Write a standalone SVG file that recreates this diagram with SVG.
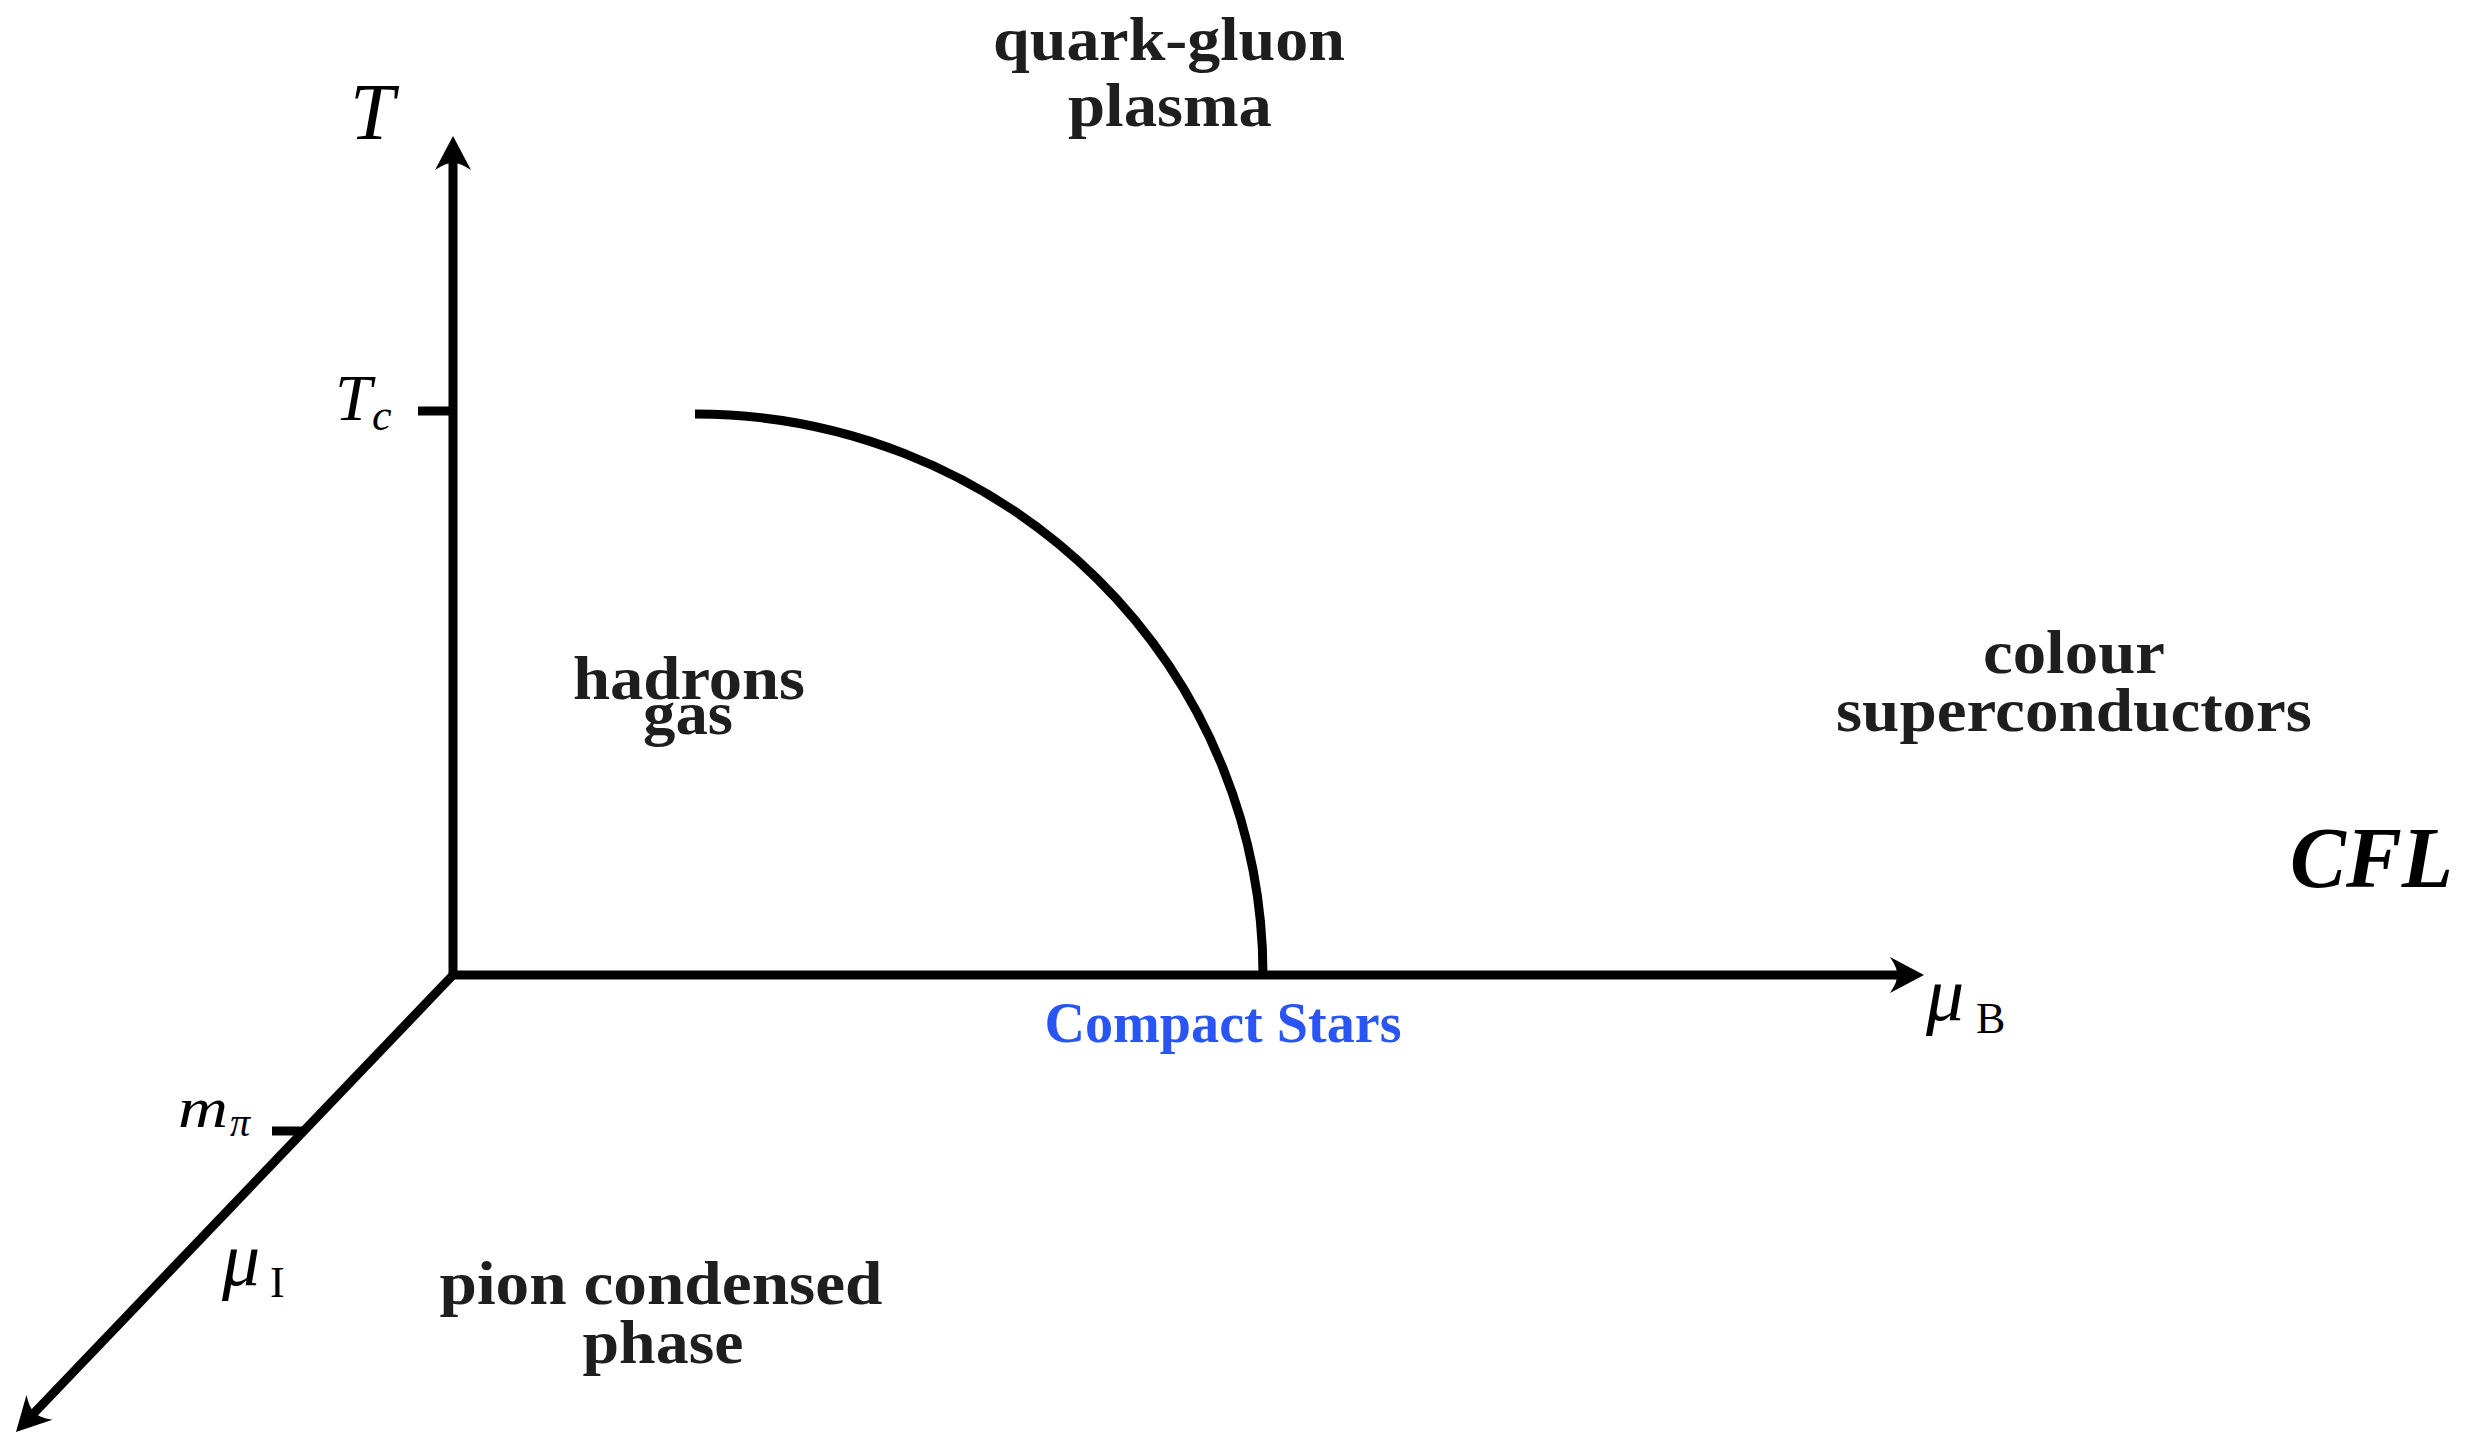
<svg xmlns="http://www.w3.org/2000/svg" width="2476" height="1435" viewBox="0 0 2476 1435">
<defs>
<style>
.lbl{font-family:"Liberation Serif","Times New Roman",serif;font-weight:bold;font-size:62px;fill:#1e1e1e;text-anchor:middle}
.math{font-family:"Liberation Serif","Times New Roman",serif;font-style:italic;fill:#000}
.up{font-family:"Liberation Serif","Times New Roman",serif;fill:#000}
.ax{stroke:#000;stroke-width:9;fill:none}
</style>
<marker id="arr" markerUnits="userSpaceOnUse" markerWidth="60" markerHeight="60" viewBox="-30 -30 60 60" refX="0" refY="0" orient="auto">
<path d="M20,0 L-14,-18 Q-6,-6 -7,0 Q-6,6 -14,18 Z" fill="#000"/>
</marker>
</defs>
<rect width="2476" height="1435" fill="#fff"/>
<g id="connectors">
<line class="ax" x1="453" y1="975" x2="453" y2="156" marker-end="url(#arr)"/>
<line class="ax" x1="453" y1="975" x2="1904" y2="975" marker-end="url(#arr)"/>
<line class="ax" x1="453" y1="975" x2="29.8" y2="1417.5" marker-end="url(#arr)"/>
<line class="ax" x1="418" y1="411" x2="453" y2="411"/>
<line class="ax" x1="272" y1="1131" x2="304" y2="1131"/>
<path class="ax" d="M695,414 A568,561 0 0 1 1263,975"/>
</g>
<g id="axis-labels">
<text class="math" x="350" y="139" font-size="80">T</text>
<text class="math" x="335" y="420" font-size="66">T</text>
<text class="math" x="372" y="430" font-size="44">c</text>
<text class="math" x="1926" y="1020" font-size="76">μ</text>
<text class="up" x="1976" y="1033" font-size="44">B</text>
<text class="math" x="222" y="1285" font-size="76">μ</text>
<text class="up" x="270" y="1297" font-size="44">I</text>
<text class="math" x="178" y="1127" font-size="58" textLength="50" lengthAdjust="spacingAndGlyphs">m</text>
<text class="math" x="230" y="1136" font-size="40">π</text>
</g>
<g id="qgp"><text class="lbl" x="1169" y="60" textLength="352" lengthAdjust="spacingAndGlyphs">quark-gluon</text><text class="lbl" x="1170" y="126" textLength="204" lengthAdjust="spacingAndGlyphs">plasma</text></g>
<g id="hadrons"><text class="lbl" x="689" y="699" textLength="232" lengthAdjust="spacingAndGlyphs">hadrons</text><text class="lbl" x="688" y="734" textLength="90" lengthAdjust="spacingAndGlyphs">gas</text></g>
<g id="csc"><text class="lbl" x="2074" y="673" textLength="182" lengthAdjust="spacingAndGlyphs">colour</text><text class="lbl" x="2074" y="731" textLength="476" lengthAdjust="spacingAndGlyphs">superconductors</text></g>
<g id="cfl"><text class="lbl" x="2290" y="887" font-style="italic" style="text-anchor:start;font-size:86px;fill:#000" textLength="163" lengthAdjust="spacingAndGlyphs">CFL</text></g>
<g id="compact-stars"><text class="lbl" x="1223" y="1042" style="fill:#2a55f5;font-size:56px" textLength="357" lengthAdjust="spacingAndGlyphs">Compact Stars</text></g>
<g id="pion"><text class="lbl" x="661" y="1304" textLength="443" lengthAdjust="spacingAndGlyphs">pion condensed</text><text class="lbl" x="663" y="1363" textLength="161" lengthAdjust="spacingAndGlyphs">phase</text></g>
</svg>
